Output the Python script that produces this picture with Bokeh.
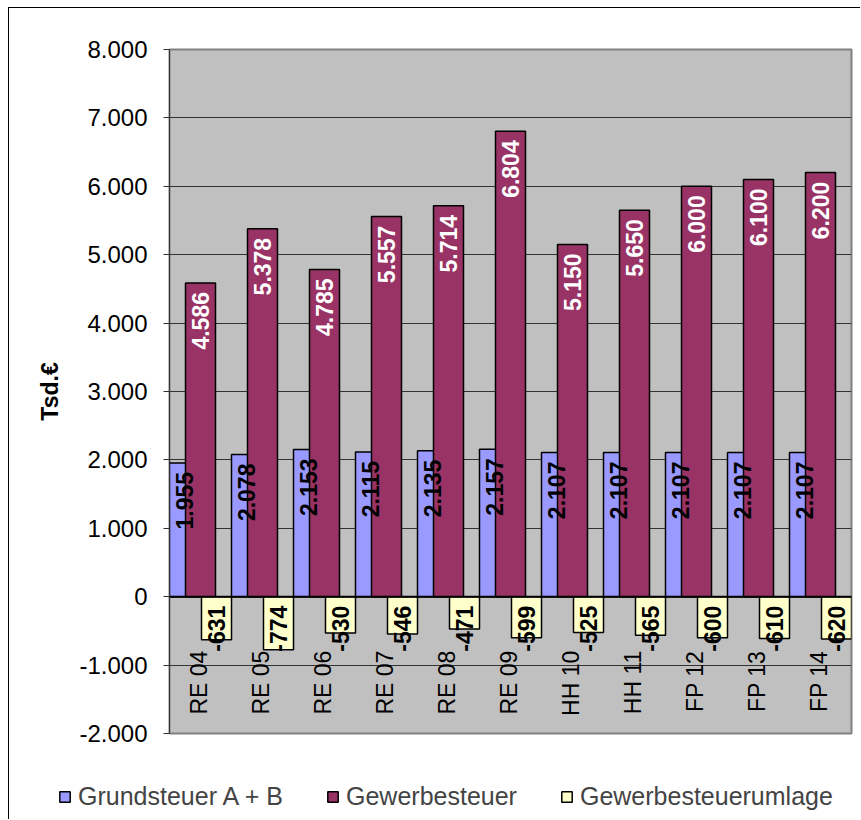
from math import pi
from bokeh.plotting import figure
from bokeh.models import (ColumnDataSource, FactorRange, Range1d, FixedTicker,
                          Legend, LegendItem, Span)
from bokeh.transform import dodge
from bokeh.core.properties import value
from bokeh.embed import file_html
from bokeh.resources import INLINE

categories = ["RE 04", "RE 05", "RE 06", "RE 07", "RE 08", "RE 09",
              "HH 10", "HH 11", "FP 12", "FP 13", "FP 14"]
grundsteuer = [1955, 2078, 2153, 2115, 2135, 2157, 2107, 2107, 2107, 2107, 2107]
gewerbesteuer = [4586, 5378, 4785, 5557, 5714, 6804, 5150, 5650, 6000, 6100, 6200]
umlage = [-631, -774, -530, -546, -471, -599, -525, -565, -600, -610, -620]
series_names = ["Grundsteuer A + B", "Gewerbesteuer", "Gewerbesteuerumlage"]
series_colors = ["#9999FF", "#993366", "#FFFFCC"]
y_ticks = [-2000, -1000, 0, 1000, 2000, 3000, 4000, 5000, 6000, 7000, 8000]
y_tick_labels = ["-2.000", "-1.000", "0", "1.000", "2.000", "3.000",
                 "4.000", "5.000", "6.000", "7.000", "8.000"]


def fmt(v):
    return f"{v:,}".replace(",", ".")


FONT = "Liberation Sans"
FS = "23px"

src = ColumnDataSource(dict(
    cat=categories,
    g=grundsteuer, w=gewerbesteuer, u=umlage,
    gl=[fmt(v) for v in grundsteuer],
    wl=[fmt(v) for v in gewerbesteuer],
    ul=[fmt(v) for v in umlage],
    zero=[0] * len(categories),
))

p = figure(width=852, height=752, output_backend="svg", toolbar_location=None,
           x_range=FactorRange(*categories, range_padding=0),
           y_range=Range1d(-2000, 8000),
           min_border_left=160, min_border_top=41, min_border_right=10,
           min_border_bottom=27)
p.styles = {"margin-left": "8px", "margin-top": "7px",
            "border-left": "1px solid #000000",
            "border-top": "1px solid #000000"}
p.background_fill_color = "#C0C0C0"
p.border_fill_color = "white"
p.outline_line_color = "#808080"
p.outline_line_width = 2

p.xaxis.visible = False
p.xgrid.visible = False
p.ygrid.grid_line_color = "#333333"
p.ygrid.grid_line_width = 1

ya = p.yaxis[0]
ya.ticker = FixedTicker(ticks=y_ticks)
ya.major_label_overrides = {t: l for t, l in zip(y_ticks, y_tick_labels)}
ya.major_label_text_font = FONT
ya.major_label_text_font_size = "24px"
ya.major_label_text_color = "black"
ya.major_label_standoff = 16
ya.major_tick_in = 0
ya.major_tick_out = 6
ya.minor_tick_line_color = None
ya.axis_line_color = "#333333"
ya.major_tick_line_color = "#333333"
ya.axis_label = "Tsd.€"
ya.axis_label_text_font = FONT
ya.axis_label_text_font_size = FS
ya.axis_label_text_font_style = "bold"
ya.axis_label_text_color = "black"
ya.axis_label_standoff = 13

W = 30 / 62
OFF = 16 / 62
p.vbar(x=dodge("cat", -OFF, range=p.x_range), top="g", bottom=0, width=W,
       source=src, fill_color=series_colors[0], line_color="black", line_width=1.5)
p.vbar(x=dodge("cat", 0, range=p.x_range), top="w", bottom=0, width=W,
       source=src, fill_color=series_colors[1], line_color="black", line_width=1.5)
p.vbar(x=dodge("cat", OFF, range=p.x_range), top=0, bottom="u", width=W,
       source=src, fill_color=series_colors[2], line_color="black", line_width=1.5)

p.add_layout(Span(location=0, dimension="width", line_color="black", line_width=2))

common = dict(angle=pi / 2, text_align="right", text_baseline="middle",
              text_font=value(FONT), text_font_size=FS, text_font_style="bold",
              y_offset=9, source=src)
p.text(x=dodge("cat", -OFF, range=p.x_range), y="g", text="gl",
       text_color="black", **common)
p.text(x=dodge("cat", 0, range=p.x_range), y="w", text="wl",
       text_color="white", **common)
p.text(x=dodge("cat", OFF, range=p.x_range), y="zero", text="ul",
       text_color="black", **common)

# category labels
p.text(x=dodge("cat", -0.03, range=p.x_range), y="zero", text="cat", angle=pi / 2,
       text_align="right", text_baseline="middle", text_font=value(FONT),
       text_font_size=FS, text_color="black", y_offset=54, source=src)

# legend in its own strip below the chart (separate root, no frame alignment)
lg = figure(width=852, height=60, output_backend="svg", toolbar_location=None,
            x_range=Range1d(0, 1), y_range=Range1d(0, 1),
            min_border=0, min_border_left=0, min_border_right=0,
            min_border_top=0, min_border_bottom=0,
            x_axis_type=None, y_axis_type=None)
lg.styles = {"margin-left": "8px", "border-left": "1px solid #000000"}
lg.outline_line_color = None
lg.grid.visible = False
items = []
for name, col, key in zip(series_names, series_colors, ["g", "w", "u"]):
    r = lg.vbar(x="zero", top=key, width=0.1, source=src, fill_color=col,
                line_color="black", line_width=1.5, visible=False)
    items.append(LegendItem(label=name, renderers=[r]))
legend = Legend(items=items, orientation="horizontal", location=(49, 8),
                label_text_font=FONT, label_text_font_size="25px",
                glyph_width=13, glyph_height=13, label_standoff=7, spacing=43,
                padding=0, margin=0, border_line_color=None,
                background_fill_alpha=0, click_policy="none")
lg.add_layout(legend, "center")

open("out.html", "w").write(file_html([p, lg], INLINE))
